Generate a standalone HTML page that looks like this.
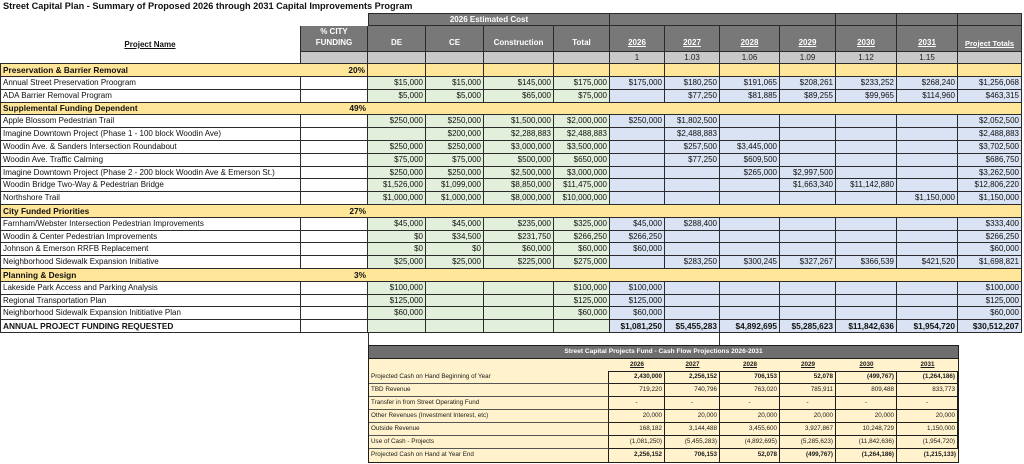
<!DOCTYPE html>
<html><head><meta charset="utf-8">
<style>
body{margin:0;width:1024px;height:464px;background:#fff;position:relative;overflow:hidden;font-family:"Liberation Sans",sans-serif;color:#111;}
.title{position:absolute;left:3px;top:0;font-size:9.2px;font-weight:bold;letter-spacing:0;line-height:12px;white-space:nowrap;}
.g{position:absolute;left:0;top:13px;display:grid;grid-template-columns:301px 67px 58px 58px 70px 56px 55px 55px 60px 56px 61px 61px 64px;grid-template-rows:13px 26px 12.3px repeat(21,12.8px);}
.g>div{box-sizing:border-box;border-right:1px solid #2b2b2b;border-bottom:1px solid #2b2b2b;font-size:8px;white-space:nowrap;display:flex;align-items:center;justify-content:flex-end;padding:0 2px;line-height:1;overflow:visible;}
.g>div.h{background:#787878;color:#fff;font-weight:bold;font-size:8px;justify-content:center;align-items:flex-end;padding-bottom:4px;text-align:center;}
.g>div.hc{align-items:center;padding-bottom:0;}
.g>div.t{border-top:1px solid #2b2b2b;}
.g>div.u{text-decoration:underline;}
.g>div.lg{background:#c9c9c9;justify-content:center;font-size:8px;color:#222;}
.w{background:#fff;}
.g>div.y{background:#ffe699;font-weight:bold;font-size:8.3px;}
.gr{background:#e2efda;}
.bl{background:#dae3f3;}
.g>div.L{justify-content:flex-start;}
.g>div.f{border-left:1px solid #2b2b2b;}
.g>div.nr{border-right:none;}
.g>div.B{font-weight:bold;}
.g>div.nb{border-bottom:none;}
.vl{position:absolute;width:1px;background:#333;}
.cf{position:absolute;left:368px;top:345px;display:grid;grid-template-columns:240px 56px 55px 60px 56px 61px 61px;grid-template-rows:13px 12px repeat(7,13px);border:1px solid #1e1e1e;background:#fff2cc;}
.cf>div{box-sizing:border-box;font-size:6.3px;white-space:nowrap;display:flex;align-items:center;justify-content:flex-end;padding:0 2px;line-height:1;color:#1a1a1a;}
.cf>div.hd{background:#6e6e6e;color:#fff;font-weight:bold;font-size:6.6px;justify-content:center;border-bottom:1px solid #1e1e1e;}
.cf>div.yr{font-weight:bold;text-decoration:underline;justify-content:center;}
.cf>div.lb{justify-content:flex-start;border-bottom:1px solid #555;border-right:1px solid #1e1e1e;}
.cf>div.d{border-right:1px solid #1e1e1e;border-bottom:1px solid #1e1e1e;}
.cf>div.tp{border-top:1px solid #1e1e1e;}
.cf>div.B{font-weight:bold;}
</style></head><body>
<div class="title">Street Capital Plan - Summary of Proposed 2026 through 2031 Capital Improvements Program</div>

<div class="g">
<!-- header row 1 -->
<div class="w nr nb" style="grid-column:1/3;grid-row:1"></div>
<div class="h hc t f" style="grid-column:3/7;grid-row:1">2026 Estimated Cost</div>
<div class="h t" style="grid-column:7/11;grid-row:1"></div>
<div class="h t" style="grid-column:11;grid-row:1"></div>
<div class="h t" style="grid-column:12;grid-row:1"></div>
<div class="h t" style="grid-column:13;grid-row:1"></div>
<!-- header row 2 -->
<div class="w" style="grid-column:1;grid-row:2/4;justify-content:center;align-items:flex-start;padding-top:15px;font-weight:bold;text-decoration:underline;font-size:8px;">Project Name</div>
<div class="h" style="grid-column:2;grid-row:2;line-height:11px;padding-bottom:3px;">% CITY<br>FUNDING</div>
<div class="h" style="grid-column:3;grid-row:2">DE</div>
<div class="h" style="grid-column:4;grid-row:2">CE</div>
<div class="h" style="grid-column:5;grid-row:2">Construction</div>
<div class="h" style="grid-column:6;grid-row:2">Total</div>
<div class="h u" style="grid-column:7;grid-row:2">2026</div>
<div class="h u" style="grid-column:8;grid-row:2">2027</div>
<div class="h u" style="grid-column:9;grid-row:2">2028</div>
<div class="h u" style="grid-column:10;grid-row:2">2029</div>
<div class="h u" style="grid-column:11;grid-row:2">2030</div>
<div class="h u" style="grid-column:12;grid-row:2">2031</div>
<div class="h u" style="grid-column:13;grid-row:2;font-size:7.5px">Project Totals</div>
<!-- header row 3 -->
<div class="lg" style="grid-column:2;grid-row:3"></div>
<div class="lg" style="grid-column:3;grid-row:3"></div>
<div class="lg" style="grid-column:4;grid-row:3"></div>
<div class="lg" style="grid-column:5;grid-row:3"></div>
<div class="lg" style="grid-column:6;grid-row:3"></div>
<div class="lg" style="grid-column:7;grid-row:3">1</div>
<div class="lg" style="grid-column:8;grid-row:3">1.03</div>
<div class="lg" style="grid-column:9;grid-row:3">1.06</div>
<div class="lg" style="grid-column:10;grid-row:3">1.09</div>
<div class="lg" style="grid-column:11;grid-row:3">1.12</div>
<div class="lg" style="grid-column:12;grid-row:3">1.15</div>
<div class="lg" style="grid-column:13;grid-row:3"></div>

<!-- Preservation -->
<div class="y L f nr">Preservation &amp; Barrier Removal</div><div class="y">20%</div><div class="y"></div><div class="y"></div><div class="y"></div><div class="y"></div><div class="y"></div><div class="y"></div><div class="y"></div><div class="y"></div><div class="y"></div><div class="y"></div><div class="y"></div>
<div class="w L f">Annual Street Preservation Proogram</div><div class="w"></div><div class="gr">$15,000</div><div class="gr">$15,000</div><div class="gr">$145,000</div><div class="gr">$175,000</div><div class="bl">$175,000</div><div class="bl">$180,250</div><div class="bl">$191,065</div><div class="bl">$208,261</div><div class="bl">$233,252</div><div class="bl">$268,240</div><div class="bl">$1,256,068</div>
<div class="w L f">ADA Barrier Removal Program</div><div class="w"></div><div class="gr">$5,000</div><div class="gr">$5,000</div><div class="gr">$65,000</div><div class="gr">$75,000</div><div class="bl"></div><div class="bl">$77,250</div><div class="bl">$81,885</div><div class="bl">$89,255</div><div class="bl">$99,965</div><div class="bl">$114,960</div><div class="bl">$463,315</div>

<!-- Supplemental -->
<div class="y L f nr">Supplemental Funding Dependent</div><div class="y nr">49%</div><div class="y" style="grid-column:span 11"></div>
<div class="w L f">Apple Blossom Pedestrian Trail</div><div class="w"></div><div class="gr">$250,000</div><div class="gr">$250,000</div><div class="gr">$1,500,000</div><div class="gr">$2,000,000</div><div class="bl">$250,000</div><div class="bl">$1,802,500</div><div class="bl"></div><div class="bl"></div><div class="bl"></div><div class="bl"></div><div class="bl">$2,052,500</div>
<div class="w L f">Imagine Downtown Project (Phase 1 - 100 block Woodin Ave)</div><div class="w"></div><div class="gr"></div><div class="gr">$200,000</div><div class="gr">$2,288,883</div><div class="gr">$2,488,883</div><div class="bl"></div><div class="bl">$2,488,883</div><div class="bl"></div><div class="bl"></div><div class="bl"></div><div class="bl"></div><div class="bl">$2,488,883</div>
<div class="w L f">Woodin Ave. &amp; Sanders Intersection Roundabout</div><div class="w"></div><div class="gr">$250,000</div><div class="gr">$250,000</div><div class="gr">$3,000,000</div><div class="gr">$3,500,000</div><div class="bl"></div><div class="bl">$257,500</div><div class="bl">$3,445,000</div><div class="bl"></div><div class="bl"></div><div class="bl"></div><div class="bl">$3,702,500</div>
<div class="w L f">Woodin Ave. Traffic Calming</div><div class="w"></div><div class="gr">$75,000</div><div class="gr">$75,000</div><div class="gr">$500,000</div><div class="gr">$650,000</div><div class="bl"></div><div class="bl">$77,250</div><div class="bl">$609,500</div><div class="bl"></div><div class="bl"></div><div class="bl"></div><div class="bl">$686,750</div>
<div class="w L f">Imagine Downtown Project (Phase 2 - 200 block Woodin Ave &amp; Emerson St.)</div><div class="w"></div><div class="gr">$250,000</div><div class="gr">$250,000</div><div class="gr">$2,500,000</div><div class="gr">$3,000,000</div><div class="bl"></div><div class="bl"></div><div class="bl">$265,000</div><div class="bl">$2,997,500</div><div class="bl"></div><div class="bl"></div><div class="bl">$3,262,500</div>
<div class="w L f">Woodin Bridge Two-Way &amp; Pedestrian Bridge</div><div class="w"></div><div class="gr">$1,526,000</div><div class="gr">$1,099,000</div><div class="gr">$8,850,000</div><div class="gr">$11,475,000</div><div class="bl"></div><div class="bl"></div><div class="bl"></div><div class="bl">$1,663,340</div><div class="bl">$11,142,880</div><div class="bl"></div><div class="bl">$12,806,220</div>
<div class="w L f">Northshore Trail</div><div class="w"></div><div class="gr">$1,000,000</div><div class="gr">$1,000,000</div><div class="gr">$8,000,000</div><div class="gr">$10,000,000</div><div class="bl"></div><div class="bl"></div><div class="bl"></div><div class="bl"></div><div class="bl"></div><div class="bl">$1,150,000</div><div class="bl">$1,150,000</div>

<!-- City Funded -->
<div class="y L f nr">City Funded Priorities</div><div class="y nr">27%</div><div class="y" style="grid-column:span 11"></div>
<div class="w L f">Farnham/Webster Intersection Pedestrian Improvements</div><div class="w"></div><div class="gr">$45,000</div><div class="gr">$45,000</div><div class="gr">$235,000</div><div class="gr">$325,000</div><div class="bl">$45,000</div><div class="bl">$288,400</div><div class="bl"></div><div class="bl"></div><div class="bl"></div><div class="bl"></div><div class="bl">$333,400</div>
<div class="w L f">Woodin &amp; Center Pedestrian Improvements</div><div class="w"></div><div class="gr">$0</div><div class="gr">$34,500</div><div class="gr">$231,750</div><div class="gr">$266,250</div><div class="bl">$266,250</div><div class="bl"></div><div class="bl"></div><div class="bl"></div><div class="bl"></div><div class="bl"></div><div class="bl">$266,250</div>
<div class="w L f">Johnson &amp; Emerson RRFB Replacement</div><div class="w"></div><div class="gr">$0</div><div class="gr">$0</div><div class="gr">$60,000</div><div class="gr">$60,000</div><div class="bl">$60,000</div><div class="bl"></div><div class="bl"></div><div class="bl"></div><div class="bl"></div><div class="bl"></div><div class="bl">$60,000</div>
<div class="w L f">Neighborhood Sidewalk Expansion Initiative</div><div class="w"></div><div class="gr">$25,000</div><div class="gr">$25,000</div><div class="gr">$225,000</div><div class="gr">$275,000</div><div class="bl"></div><div class="bl">$283,250</div><div class="bl">$300,245</div><div class="bl">$327,267</div><div class="bl">$366,539</div><div class="bl">$421,520</div><div class="bl">$1,698,821</div>

<!-- Planning -->
<div class="y L f nr">Planning &amp; Design</div><div class="y nr">3%</div><div class="y" style="grid-column:span 11"></div>
<div class="w L f">Lakeside Park Access and Parking Analysis</div><div class="w"></div><div class="gr">$100,000</div><div class="gr"></div><div class="gr"></div><div class="gr">$100,000</div><div class="bl">$100,000</div><div class="bl"></div><div class="bl"></div><div class="bl"></div><div class="bl"></div><div class="bl"></div><div class="bl">$100,000</div>
<div class="w L f">Regional Transportation Plan</div><div class="w"></div><div class="gr">$125,000</div><div class="gr"></div><div class="gr"></div><div class="gr">$125,000</div><div class="bl">$125,000</div><div class="bl"></div><div class="bl"></div><div class="bl"></div><div class="bl"></div><div class="bl"></div><div class="bl">$125,000</div>
<div class="w L f">Neighborhood Sidewalk Expansion Inititiative Plan</div><div class="w"></div><div class="gr">$60,000</div><div class="gr"></div><div class="gr"></div><div class="gr">$60,000</div><div class="bl">$60,000</div><div class="bl"></div><div class="bl"></div><div class="bl"></div><div class="bl"></div><div class="bl"></div><div class="bl">$60,000</div>

<!-- Annual -->
<div class="w L f B" style="font-size:8.3px">ANNUAL PROJECT FUNDING REQUESTED</div><div class="w"></div><div class="gr"></div><div class="gr"></div><div class="gr"></div><div class="gr"></div><div class="bl B" style="font-size:8.3px">$1,081,250</div><div class="bl B" style="font-size:8.3px">$5,455,283</div><div class="bl B" style="font-size:8.3px">$4,892,695</div><div class="bl B" style="font-size:8.3px">$5,285,623</div><div class="bl B" style="font-size:8.3px">$11,842,636</div><div class="bl B" style="font-size:8.3px">$1,954,720</div><div class="bl B" style="font-size:8.3px">$30,512,207</div>
</div>

<div class="vl" style="left:368px;top:333px;height:13px"></div>
<div class="vl" style="left:719px;top:333px;height:13px"></div>

<div class="cf">
<div class="hd" style="grid-column:1/8">Street Capital Projects Fund - Cash Flow Projections 2026-2031</div>
<div></div><div class="yr">2026</div><div class="yr">2027</div><div class="yr">2028</div><div class="yr">2029</div><div class="yr">2030</div><div class="yr">2031</div>

<div class="lb">Projected Cash on Hand Beginning of Year</div><div class="d tp B">2,430,000</div><div class="d tp B">2,256,152</div><div class="d tp B">706,153</div><div class="d tp B">52,078</div><div class="d tp B">(499,767)</div><div class="d tp B">(1,264,186)</div>
<div class="lb">TBD Revenue</div><div class="d">719,220</div><div class="d">740,796</div><div class="d">763,020</div><div class="d">785,911</div><div class="d">809,488</div><div class="d">833,773</div>
<div class="lb">Transfer in from Street Operating Fund</div><div class="d" style="justify-content:center">-</div><div class="d" style="justify-content:center">-</div><div class="d" style="justify-content:center">-</div><div class="d" style="justify-content:center">-</div><div class="d" style="justify-content:center">-</div><div class="d" style="justify-content:center">-</div>
<div class="lb">Other Revenues (Investment Interest, etc)</div><div class="d">20,000</div><div class="d">20,000</div><div class="d">20,000</div><div class="d">20,000</div><div class="d">20,000</div><div class="d">20,000</div>
<div class="lb">Outside Revenue</div><div class="d">168,182</div><div class="d">3,144,488</div><div class="d">3,455,600</div><div class="d">3,927,867</div><div class="d">10,248,729</div><div class="d">1,150,000</div>
<div class="lb">Use of Cash - Projects</div><div class="d">(1,081,250)</div><div class="d">(5,455,283)</div><div class="d">(4,892,695)</div><div class="d">(5,285,623)</div><div class="d">(11,842,636)</div><div class="d">(1,954,720)</div>
<div class="lb" style="border-bottom:none">Projected Cash on Hand at Year End</div><div class="d B" style="border-bottom:none">2,256,152</div><div class="d B" style="border-bottom:none">706,153</div><div class="d B" style="border-bottom:none">52,078</div><div class="d B" style="border-bottom:none">(499,767)</div><div class="d B" style="border-bottom:none">(1,264,186)</div><div class="d B" style="border-bottom:none;border-right:none">(1,215,133)</div>
</div>
</body></html>
